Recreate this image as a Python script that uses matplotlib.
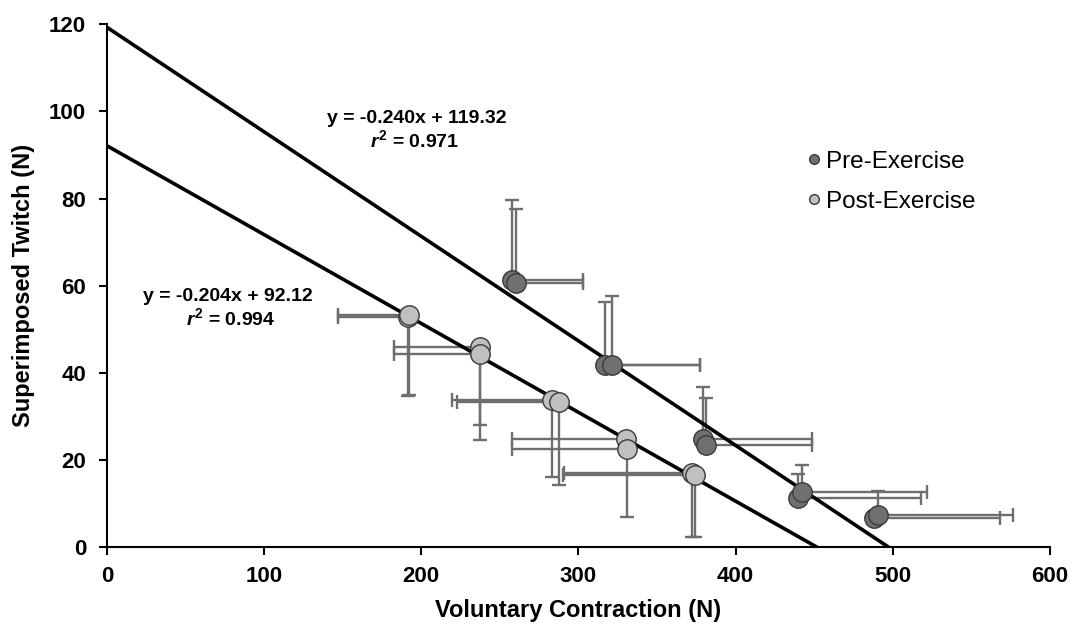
import matplotlib
matplotlib.use("Agg")
import matplotlib.pyplot as plt
import numpy as np

plt.rcParams['font.family'] = ['Liberation Sans', 'DejaVu Sans']
plt.rcParams['mathtext.fontset'] = 'custom'
plt.rcParams['mathtext.it'] = 'Liberation Sans:italic:bold'
plt.rcParams['mathtext.rm'] = 'Liberation Sans:bold'

# Pre-exercise (two overlapping sets per level)
pre_x = [257.8, 260.0, 317.2, 321.4, 379.4, 380.9, 439.7, 442.5, 488.1, 490.6]
pre_y = [61.3, 60.5, 41.8, 41.8, 24.9, 23.4, 11.2, 12.7, 6.6, 7.3]
pre_xerr = [45.0, 43.0, 60.0, 56.0, 69.0, 67.5, 78.0, 79.0, 80.0, 86.0]
pre_yerr = [18.3, 17.0, 14.5, 15.8, 11.9, 10.7, 5.5, 6.1, 0.5, 5.6]

# Post-exercise
post_x = [191.5, 191.9, 237.6, 237.2, 283.2, 287.5, 330.0, 331.0, 372.0, 374.0]
post_y = [52.7, 53.2, 46.0, 44.3, 33.7, 33.3, 24.9, 22.6, 16.9, 16.5]
post_xerr = [44.5, 45.0, 55.2, 54.8, 63.7, 64.8, 72.2, 73.2, 81.4, 84.0]
post_yerr = [18.0, 18.3, 18.0, 19.8, 17.6, 19.1, 1.0, 15.6, 14.5, 14.1]

fits = [(-0.240, 119.32), (-0.204, 92.12)]
fit_text = ["y = -0.240x + 119.32", "y = -0.204x + 92.12"]
r2_text = [r"$\mathit{r}^{2}$ = 0.971", r"$\mathit{r}^{2}$ = 0.994"]

fig = plt.figure(figsize=(10.76, 6.27), dpi=100)
ax = fig.add_axes([0.0994, 0.1276, 0.8764, 0.8336])

ecol = '#6e6e6e'
# error bars: pre -> positive side only, post -> negative side only
ax.errorbar(pre_x, pre_y, xerr=[np.zeros(len(pre_x)), pre_xerr],
            yerr=[np.zeros(len(pre_y)), pre_yerr], fmt='none', ecolor=ecol,
            elinewidth=1.7, capsize=5, capthick=1.7, zorder=2)
ax.errorbar(post_x, post_y, xerr=[post_xerr, np.zeros(len(post_x))],
            yerr=[post_yerr, np.zeros(len(post_y))], fmt='none', ecolor=ecol,
            elinewidth=1.7, capsize=5, capthick=1.7, zorder=2)

# regression lines
for m, b in fits:
    xs = np.array([0, -b / m])
    ax.plot(xs, m * xs + b, color='black', lw=2.6, zorder=3)

ax.plot(pre_x, pre_y, 'o', ms=14, mfc='#707070', mec='#3a3a3a', mew=1.0,
        zorder=4, label='Pre-Exercise')
ax.plot(post_x, post_y, 'o', ms=14, mfc='#c0c0c0', mec='#3a3a3a', mew=1.0,
        zorder=4, label='Post-Exercise')

fs_eq = 14
ax.text(197, 98.4, fit_text[0], ha='center', va='center', fontsize=fs_eq, fontweight='bold')
ax.text(196, 93.4, r2_text[0], ha='center', va='center', fontsize=fs_eq, fontweight='bold')
ax.text(77, 57.6, fit_text[1], ha='center', va='center', fontsize=fs_eq, fontweight='bold')
ax.text(79, 52.6, r2_text[1], ha='center', va='center', fontsize=fs_eq, fontweight='bold')

leg = ax.legend(loc='upper left', bbox_to_anchor=(0.714, 0.80), frameon=False,
                fontsize=17.5, handletextpad=0.0, markerscale=0.5,
                labelspacing=0.75, handlelength=1.0)

ax.set_xlim(0, 600)
ax.set_ylim(0, 120)
ax.set_xticks(range(0, 601, 100))
ax.set_yticks(range(0, 121, 20))
for s in ['top', 'right']:
    ax.spines[s].set_visible(False)
for s in ['left', 'bottom']:
    ax.spines[s].set_linewidth(1.5)
ax.tick_params(axis='y', direction='out', length=6, width=1.5, labelsize=16, pad=9)
ax.tick_params(axis='x', direction='out', length=6, width=1.5, labelsize=16, pad=8)
for lab in ax.get_xticklabels() + ax.get_yticklabels():
    lab.set_fontweight('bold')
ax.set_xlabel('Voluntary Contraction (N)', fontsize=17, fontweight='bold', labelpad=8)
ax.set_ylabel('Superimposed Twitch (N)', fontsize=17, fontweight='bold', labelpad=10)

fig.savefig('out.png', dpi=100)
